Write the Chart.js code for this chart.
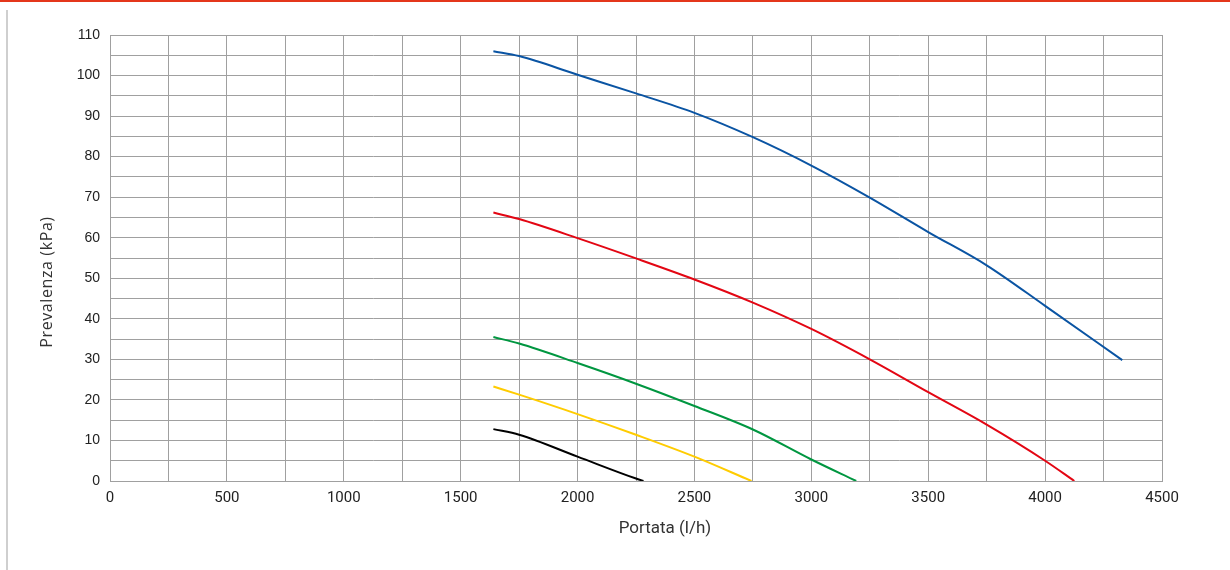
<!DOCTYPE html>
<html lang="it">
<head>
    <meta charset="UTF-8">
    <meta name="viewport" content="width=device-width, initial-scale=1.0">
    <title>Prevalenza - Portata</title>
    <script src="https://cdn.jsdelivr.net/npm/chart.js"></script>
    <style>
        html, body { margin: 0; padding: 0; background: #fff; overflow: hidden; }
        #topBar { position: absolute; left: 0; top: 0; width: 1230px; height: 2px; background: #e4361b; }
        #sideLine { position: absolute; left: 6px; top: 10px; width: 2px; height: 560px; background: #cfcfcf; }
        #myChart { position: absolute; left: 0; top: 0; }
    </style>
</head>
<body>
<div id="topBar"></div>
<div id="sideLine"></div>
<canvas id="myChart" width="1230" height="570"></canvas>

<script>
    // curve: portata (l/h) e prevalenza (kPa)
    const portataBlu = [1640, 1750, 2000, 2250, 2500, 2750, 3000, 3250, 3500, 3750, 4000, 4330];
    const prevalenzaBlu = [106.0, 104.8, 100.2, 95.6, 90.8, 84.8, 77.8, 69.9, 61.4, 53.2, 43.2, 29.8];

    const portataRossa = [1640, 1750, 2000, 2250, 2500, 2750, 3000, 3250, 3500, 3750, 4000, 4125];
    const prevalenzaRossa = [66.2, 64.6, 59.9, 54.9, 49.7, 44.0, 37.5, 30.0, 21.9, 13.9, 5.0, 0];

    const portataVerde = [1640, 1750, 2000, 2250, 2500, 2750, 3000, 3192];
    const prevalenzaVerde = [35.5, 33.9, 29.1, 24.0, 18.5, 12.7, 5.3, 0];

    const portataGialla = [1640, 1750, 2000, 2250, 2500, 2744];
    const prevalenzaGialla = [23.3, 21.3, 16.5, 11.4, 6.0, 0];

    const portataNera = [1640, 1750, 2000, 2250, 2282];
    const prevalenzaNera = [12.8, 11.4, 6.0, 0.6, 0];

    const xTickLabels = [0, 500, 1000, 1500, 2000, 2500, 3000, 3500, 4000, 4500];
    const yTickLabels = [0, 10, 20, 30, 40, 50, 60, 70, 80, 90, 100, 110];

    const gridColor = '#a0a0a0';

    function punti(xs, ys) {
        return xs.map((x, i) => ({ x: x, y: ys[i] }));
    }

    function serie(xs, ys, colore) {
        return {
            data: punti(xs, ys),
            borderColor: colore,
            borderWidth: 2,
            pointRadius: 0,
            fill: false,
            cubicInterpolationMode: 'monotone'
        };
    }

    // titoli degli assi, un po' spostati rispetto al centro come nell'originale
    const axisTitles = {
        id: 'axisTitles',
        afterDraw(chart) {
            const ctx = chart.ctx;
            ctx.save();
            ctx.fillStyle = '#333';
            ctx.textAlign = 'center';
            ctx.textBaseline = 'middle';

            ctx.font = '17px Roboto';
            ctx.fillText('Portata (l/h)', 665, 529);

            ctx.translate(47, 282);
            ctx.rotate(-Math.PI / 2);
            ctx.font = '16px "Open Sans"';
            ctx.letterSpacing = '0.6px';
            ctx.fillText('Prevalenza (kPa)', 0, 0);
            ctx.restore();
        }
    };

    const ctx = document.getElementById('myChart').getContext('2d');

    new Chart(ctx, {
        type: 'line',
        data: {
            datasets: [
                serie(portataBlu, prevalenzaBlu, '#0a54a3'),
                serie(portataRossa, prevalenzaRossa, '#e30613'),
                serie(portataVerde, prevalenzaVerde, '#009640'),
                serie(portataGialla, prevalenzaGialla, '#ffcc00'),
                serie(portataNera, prevalenzaNera, '#000000')
            ]
        },
        options: {
            responsive: false,
            animation: false,
            devicePixelRatio: 1,
            layout: { padding: { left: 0, right: 68, top: 35, bottom: 0 } },
            plugins: {
                legend: { display: false },
                tooltip: { enabled: false }
            },
            scales: {
                x: {
                    type: 'linear',
                    min: 0,
                    max: 4500,
                    afterFit(scale) { scale.height = 89; },
                    grid: { color: gridColor, lineWidth: 1, drawTicks: false },
                    border: { color: gridColor, width: 1 },
                    ticks: {
                        stepSize: 250,
                        autoSkip: false,
                        maxRotation: 0,
                        padding: 8,
                        color: '#222',
                        font: { family: 'Roboto', size: 15 },
                        callback: v => xTickLabels.includes(v) ? String(v) : ''
                    }
                },
                y: {
                    type: 'linear',
                    min: 0,
                    max: 110,
                    afterFit(scale) { scale.width = 110; },
                    grid: { color: gridColor, lineWidth: 1, drawTicks: false },
                    border: { color: gridColor, width: 1 },
                    ticks: {
                        stepSize: 5,
                        autoSkip: false,
                        padding: 10,
                        color: '#222',
                        font: { family: '"Liberation Sans"', size: 14 },
                        callback: v => yTickLabels.includes(v) ? String(v) : ''
                    }
                }
            }
        },
        plugins: [axisTitles]
    });
</script>
</body>
</html>
